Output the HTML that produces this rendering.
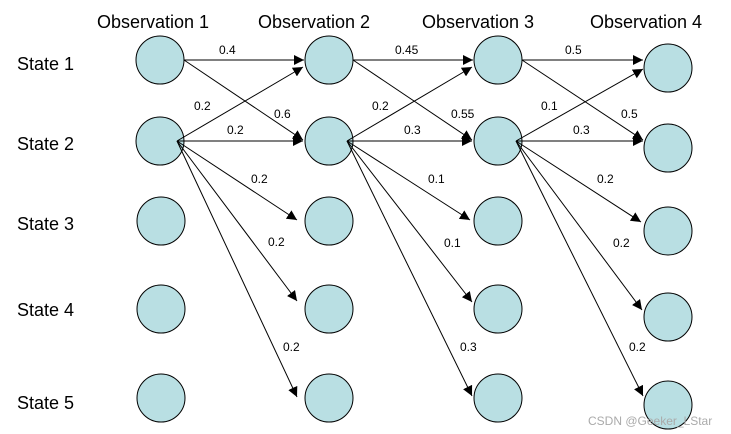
<!DOCTYPE html>
<html><head><meta charset="utf-8"><style>
html,body{margin:0;padding:0;background:#fff;}
svg{display:block;}
text{font-family:"Liberation Sans",Arial,sans-serif;fill:#000;}
</style></head><body>
<svg width="731" height="434" viewBox="0 0 731 434" xmlns="http://www.w3.org/2000/svg">
<defs><marker id="a" viewBox="0 0 10 10" refX="10" refY="5" markerWidth="10" markerHeight="10" markerUnits="userSpaceOnUse" orient="auto"><path d="M0,0 L10,5 L0,10 z" fill="#000"/></marker></defs>
<g font-size="18">
<text x="97" y="28">Observation 1</text>
<text x="258" y="28">Observation 2</text>
<text x="422" y="28">Observation 3</text>
<text x="590" y="28">Observation 4</text>
<text x="17" y="70">State 1</text>
<text x="17" y="150">State 2</text>
<text x="17" y="230">State 3</text>
<text x="17" y="316">State 4</text>
<text x="17" y="409">State 5</text>
</g>
<g fill="#b9dfe3" stroke="#000" stroke-width="1">
<circle cx="160" cy="60" r="24"/><circle cx="160" cy="141" r="24"/><circle cx="161" cy="221" r="24"/><circle cx="161" cy="309" r="24"/><circle cx="161" cy="398" r="24"/>
<circle cx="329" cy="60" r="24"/><circle cx="329" cy="141" r="24"/><circle cx="329" cy="221" r="24"/><circle cx="329" cy="309" r="24"/><circle cx="329" cy="398" r="24"/>
<circle cx="498" cy="60" r="24"/><circle cx="498" cy="141" r="24"/><circle cx="498" cy="221" r="24"/><circle cx="498" cy="309" r="24"/><circle cx="498" cy="398" r="24"/>
<circle cx="668" cy="68" r="24"/><circle cx="668" cy="148" r="24"/><circle cx="668" cy="231" r="24"/><circle cx="668" cy="317" r="24"/><circle cx="668" cy="405" r="24"/>
</g>
<g stroke="#000" stroke-width="1" fill="none" marker-end="url(#a)">
<line x1="184" y1="60" x2="304" y2="60"/>
<line x1="184" y1="60" x2="303" y2="140"/>
<line x1="177" y1="141" x2="303" y2="67"/>
<line x1="177" y1="141" x2="303" y2="141"/>
<line x1="177" y1="141" x2="297" y2="220"/>
<line x1="177" y1="141" x2="297" y2="301"/>
<line x1="177" y1="141" x2="297" y2="397"/>
<line x1="353" y1="60" x2="473" y2="60"/>
<line x1="353" y1="60" x2="472" y2="140"/>
<line x1="347" y1="141" x2="472" y2="67"/>
<line x1="347" y1="141" x2="472" y2="141"/>
<line x1="347" y1="141" x2="470" y2="220"/>
<line x1="347" y1="141" x2="472" y2="302"/>
<line x1="347" y1="141" x2="472" y2="396"/>
<line x1="522" y1="60" x2="643" y2="60"/>
<line x1="522" y1="60" x2="643" y2="140"/>
<line x1="516" y1="141" x2="643" y2="69"/>
<line x1="516" y1="141" x2="643" y2="141"/>
<line x1="516" y1="141" x2="641" y2="222"/>
<line x1="516" y1="141" x2="642" y2="310"/>
<line x1="516" y1="141" x2="643" y2="396"/>
</g>
<g font-size="12">
<text x="219" y="54">0.4</text>
<text x="194" y="110">0.2</text>
<text x="274" y="118">0.6</text>
<text x="227" y="134">0.2</text>
<text x="251" y="183">0.2</text>
<text x="268" y="246">0.2</text>
<text x="283" y="351">0.2</text>
<text x="395" y="54">0.45</text>
<text x="372" y="110">0.2</text>
<text x="451" y="118">0.55</text>
<text x="404" y="134">0.3</text>
<text x="428" y="183">0.1</text>
<text x="444" y="247">0.1</text>
<text x="460" y="351">0.3</text>
<text x="565" y="54">0.5</text>
<text x="541" y="110">0.1</text>
<text x="621" y="118">0.5</text>
<text x="573" y="134">0.3</text>
<text x="597" y="183">0.2</text>
<text x="613" y="247">0.2</text>
<text x="629" y="351">0.2</text>
</g>
<text x="588" y="425" font-size="12" style="fill:#aaa">CSDN @Geeker_LStar</text>
</svg>
</body></html>
